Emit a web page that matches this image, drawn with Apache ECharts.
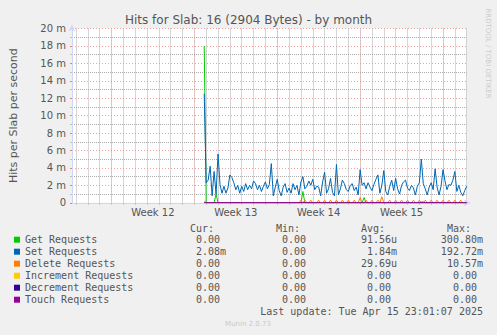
<!DOCTYPE html>
<html>
<head>
<meta charset="utf-8">
<style>
  html, body { margin: 0; padding: 0; background: #f0f0f0; }
  #main { width: 497px; height: 335px; }
</style>
<script src="https://cdn.jsdelivr.net/npm/echarts@6/dist/echarts.min.js"></script>
</head>
<body>
<div id="main"></div>
<script>
// munin memcached "slab 16" month graph, values are milli-hits per second
var seriesNames = ['Get Requests', 'Set Requests', 'Delete Requests', 'Increment Requests', 'Decrement Requests', 'Touch Requests'];
var seriesColors = ['#00cc00', '#0066b3', '#ff8000', '#ffcc00', '#330099', '#990099'];

// one sample per 4 hours, first slot Thu Mar 13 16:00, 201 slots
var slotStart = Date.UTC(2025, 2, 13, 16);
var slotHours = 4;
var slotCount = 201;
var firstSlot = 67; // nothing recorded before this slot

var setReq = [
  12.5, 2.3, 2.6, 4.2, 0.8, 3.6, 1.0, 5.6, 2.1, 1.1,
  1.9, 1.1, 1.7, 3.2, 2.9, 2.3, 1.5, 2.0, 1.1, 1.9,
  1.3, 2.2, 1.5, 2.0, 1.6, 2.5, 2.2, 1.5, 2.0, 1.3,
  1.9, 2.4, 1.6, 2.1, 4.5, 0.8, 1.8, 2.7, 1.4, 0.8,
  1.8, 2.2, 1.2, 1.7, 1.1, 2.2, 1.5, 2.0, 0.9, 2.4,
  3.0, 1.6, 1.9, 2.5, 2.0, 2.7, 1.5, 1.9, 1.8, 0.8,
  2.4, 3.5, 1.1, 1.6, 2.8, 1.2, 0.8, 4.4, 0.9, 1.6,
  2.6, 2.2, 1.5, 1.3, 2.0, 2.2, 1.4, 1.8, 0.9, 3.8,
  2.0, 2.3, 1.6, 2.3, 1.8, 1.4, 2.1, 2.7, 3.2, 1.1,
  2.0, 3.7, 1.3, 0.9, 1.9, 2.6, 1.4, 2.8, 1.6, 1.0,
  2.0, 2.4, 2.6, 1.7, 1.4, 2.0, 1.7, 0.9, 1.9, 2.3,
  5.0, 2.2, 1.6, 0.9, 1.8, 2.3, 1.5, 3.9, 1.8, 0.9,
  1.9, 3.8, 2.5, 1.5, 2.1, 2.0, 2.6, 3.6, 1.3, 2.0,
  1.2, 0.8, 1.4, 1.9
];
var getReq = [
  18.0, 0, 0, 0, 0, 0, 1.0, 0, 0, 0,
  0, 0, 0, 0, 0, 0, 0, 0, 0, 0,
  0, 0, 0, 0, 0, 0, 0, 0, 0, 0,
  0, 0, 0, 0, 0, 0, 0, 0, 0, 0,
  0, 0, 0, 0, 0, 0, 0, 0, 0, 0,
  1.3, 0, 0, 0, 0, 0, 0, 0, 0, 0,
  0, 0, 0, 0, 0, 0, 0, 0, 0, 0,
  0, 0, 0, 0, 0, 0, 0, 0, 0, 0,
  0, 0.6, 0, 0, 0, 0, 0, 0, 0, 0,
  0, 0, 0, 0, 0, 0, 0, 0, 0, 0,
  0, 0, 0, 0, 0, 0, 0, 0, 0, 0,
  0.1, 0.1, 0, 0, 0, 0, 0, 0, 0, 0,
  0, 0, 0, 0, 0, 0, 0, 0, 0, 0,
  0, 0, 0, 0
];
var deleteReq = [
  0.2, 0, 0, 0, 0, 0, 0, 0, 0, 0,
  0, 0, 0, 0, 0, 0, 0, 0, 0, 0,
  0, 0, 0, 0, 0, 0, 0, 0, 0, 0,
  0, 0, 0, 0, 0, 0, 0, 0, 0, 0,
  0, 0, 0, 0, 0, 0, 0, 0, 0, 0.3,
  0, 0.3, 0, 0, 0.3, 0, 0, 0, 0.3, 0,
  0, 0.3, 0, 0, 0.3, 0, 0, 0.3, 0, 0,
  0.3, 0, 0, 0.3, 0, 0, 0.3, 0, 0, 0.6,
  0, 0, 0.3, 0, 0, 0.3, 0, 0, 0.3, 0,
  0.7, 0, 0, 0, 0.3, 0, 0, 0.3, 0, 0,
  0.3, 0, 0, 0.3, 0, 0, 0.3, 0, 0, 0.3,
  0, 0, 0.3, 0, 0, 0.3, 0, 0, 0.3, 0,
  0, 0.3, 0, 0, 0.3, 0, 0, 0.3, 0, 0,
  0.3, 0, 0, 0
];
// increment / decrement / touch read 0.00 everywhere
var flatZero = Array(setReq.length).fill(0);

var statHeads = ['Cur:', 'Min:', 'Avg:', 'Max:'];
var curVals = ['0.00', '2.08m', '0.00', '0.00', '0.00', '0.00'];
var minVals = ['0.00', '0.00', '0.00', '0.00', '0.00', '0.00'];
var avgVals = ['91.56u', '1.84m', '29.69u', '0.00', '0.00', '0.00'];
var maxVals = ['300.80m', '192.72m', '10.57m', '0.00', '0.00', '0.00'];
var lastUpdate = 'Last update: Tue Apr 15 23:01:07 2025';

var slots = [];
for (var i = 0; i < slotCount; i++) slots.push(slotStart + i * slotHours * 3600000);

function pad(vals) { return Array(firstSlot).fill(null).concat(vals); }
function isMidnight(v) { return new Date(+v).getUTCHours() === 0; }
function isMonday(v) { var d = new Date(+v); return d.getUTCDay() === 1 && d.getUTCHours() === 0; }
function isMidWeek(v) { var d = new Date(+v); return d.getUTCDay() === 4 && d.getUTCHours() === 12; }
function isoWeek(v) {
  var d = new Date(+v);
  d = new Date(Date.UTC(d.getUTCFullYear(), d.getUTCMonth(), d.getUTCDate()));
  d.setUTCDate(d.getUTCDate() + 4 - (d.getUTCDay() || 7));
  var y0 = new Date(Date.UTC(d.getUTCFullYear(), 0, 1));
  return Math.ceil(((d - y0) / 86400000 + 1) / 7);
}

var font = 'DejaVu Sans';
var mono = 'DejaVu Sans Mono';
var axisCol = '#cfd6f8';
var majorGrid = '#f0a0a0';
var minorGrid = '#acacac';

var chart = echarts.init(document.getElementById('main'), null, { renderer: 'svg' });

var allData = [getReq, setReq, deleteReq, flatZero, flatZero, flatZero];
var series = seriesNames.map(function (n, k) {
  return {
    name: n, type: 'line', data: pad(allData[k]),
    showSymbol: false, symbol: 'none', silent: true,
    color: seriesColors[k],
    lineStyle: { width: 1, color: seriesColors[k] }
  };
});

// stats table
var graphic = [];
var headX = [190, 276, 361, 447];
var colRight = [226, 312, 397, 483];
statHeads.forEach(function (h, c) {
  graphic.push({ type: 'text', x: headX[c], y: 228,
    style: { text: h, fontFamily: mono, fontSize: 10, fill: '#555', align: 'left', verticalAlign: 'middle' } });
});
[curVals, minVals, avgVals, maxVals].forEach(function (col, c) {
  col.forEach(function (v, r) {
    var hasUnit = /[a-z]$/.test(v);
    graphic.push({ type: 'text', x: colRight[c] - (hasUnit ? 0 : 6), y: 239.7 + r * 12,
      style: { text: v, fontFamily: mono, fontSize: 10, fill: '#555', align: 'right', verticalAlign: 'middle' } });
  });
});
graphic.push({ type: 'text', x: 483, y: 311.7,
  style: { text: lastUpdate, fontFamily: mono, fontSize: 10, fill: '#555', align: 'right', verticalAlign: 'middle' } });
graphic.push({ type: 'text', x: 248, y: 324,
  style: { text: 'Munin 2.0.73', fontFamily: font, fontSize: 7, fill: '#c8c8c8', align: 'center', verticalAlign: 'middle' } });
graphic.push({ type: 'text', x: 487.5, y: 53.5, rotation: -Math.PI / 2,
  style: { text: 'RRDTOOL / TOBI OETIKER', fontFamily: font, fontSize: 7, fill: '#cccccc', align: 'center', verticalAlign: 'middle' } });

var option = {
  backgroundColor: '#f0f0f0',
  animation: false,
  title: {
    text: 'Hits for Slab: 16 (2904 Bytes) - by month',
    left: 'center', top: 14, padding: 0,
    textStyle: { fontFamily: font, fontSize: 12, fontWeight: 'normal', color: '#555' }
  },
  legend: {
    data: seriesNames, orient: 'vertical', left: 14, top: 233.7, padding: 0,
    itemWidth: 6, itemHeight: 6, itemGap: 0, itemTextGap: 6, icon: 'rect',
    selectedMode: false,
    textStyle: { fontFamily: mono, fontSize: 10, color: '#555', lineHeight: 12 }
  },
  grid: { left: 66.7, right: 30.3, top: 28.5, bottom: 132.2, show: true, backgroundColor: '#ffffff', borderWidth: 0 },
  xAxis: [{
    type: 'category', data: slots, boundaryGap: false,
    axisLine: { lineStyle: { color: axisCol }, symbol: ['none', 'arrow'], symbolSize: [5, 7], symbolOffset: [0, 4] },
    axisTick: { show: true, length: 2, interval: function (i, v) { return isMidnight(v); }, lineStyle: { color: '#c0c0c0' } },
    axisLabel: {
      interval: function (i, v) { return isMidWeek(v); },
      formatter: function (v) { return 'Week ' + isoWeek(v); },
      fontFamily: font, fontSize: 10, color: '#555', margin: 5
    },
    splitLine: { show: true, interval: function (i, v) { return isMidnight(v); }, lineStyle: { color: minorGrid, type: [1, 1] } }
  }, {
    type: 'category', data: slots, boundaryGap: false, position: 'top',
    axisLine: { show: false }, axisTick: { show: false }, axisLabel: { show: false },
    splitLine: { show: true, interval: function (i, v) { return isMonday(v); }, lineStyle: { color: majorGrid, type: [1, 2] } }
  }],
  yAxis: {
    type: 'value', min: 0, max: 20, interval: 2,
    name: 'Hits per Slab per second', nameLocation: 'middle', nameGap: 53,
    nameTextStyle: { fontFamily: font, fontSize: 11, color: '#555' },
    axisLine: { show: true, lineStyle: { color: axisCol }, symbol: ['none', 'arrow'], symbolSize: [5, 7], symbolOffset: [0, 4] },
    axisTick: { show: true, length: 2, lineStyle: { color: '#e08080' } },
    minorTick: { show: true, splitNumber: 2, length: 2, lineStyle: { color: '#c0c0c0' } },
    minorSplitLine: { show: true, lineStyle: { color: minorGrid, type: [1, 1] } },
    splitLine: { show: true, lineStyle: { color: majorGrid, type: [1, 2] } },
    axisLabel: {
      formatter: function (v) { return v === 0 ? '0' : v + ' m'; },
      fontFamily: font, fontSize: 10, color: '#555', margin: 6
    }
  },
  graphic: graphic,
  series: series
};
chart.setOption(option);
</script>
</body>
</html>
